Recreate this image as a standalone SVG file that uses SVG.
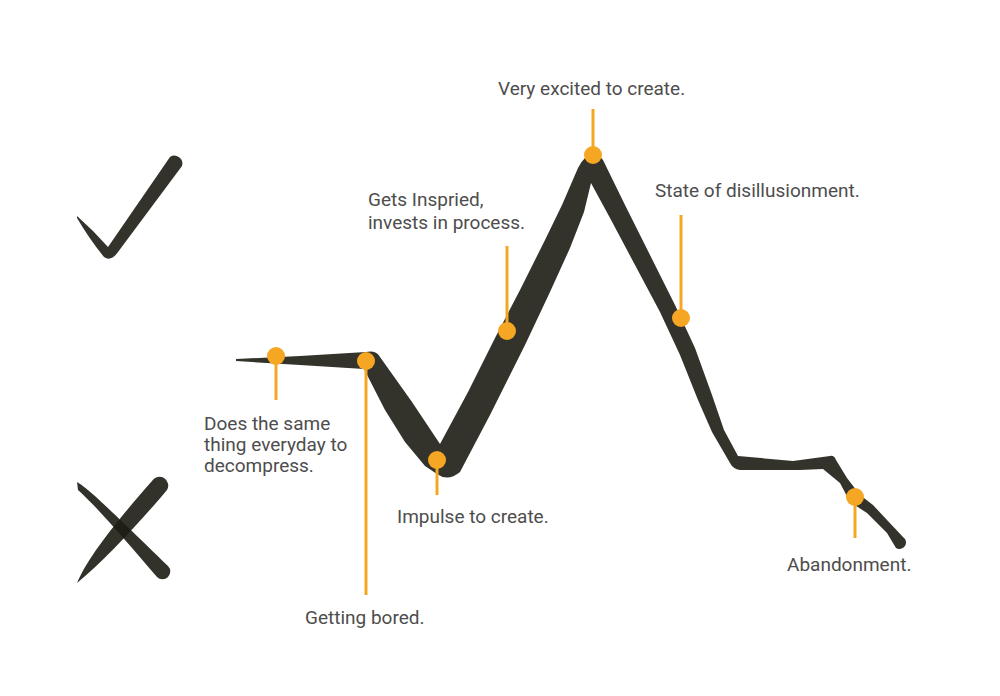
<svg xmlns="http://www.w3.org/2000/svg" width="1000" height="696" viewBox="0 0 1000 696">
<style>
.ink{fill:#33332c}
.xink{fill:#1c1c14;fill-opacity:0.9}
.dot{fill:#f5a623}
.pin{stroke:#f5a623;stroke-width:3;fill:none}
.lbl{font-family:Roboto,"Liberation Sans",sans-serif;font-size:19px;fill:#4d4d4d}
</style>
<rect width="1000" height="696" fill="#ffffff"/>
<g id="check">
<path class="ink" d="M77,216 Q93,230 108,247 L170,157 A8,8 0 0 1 182,166 L118,252 Q111,262 104,257 Q90,240 77,218 Z"/>
</g>
<g id="cross">
<path class="xink" d="M77,482 C90,490 105,505 168,566 A7.5,7.5 0 0 1 157,577 C125,540 100,510 78,490 Z"/>
<path class="xink" d="M152,481 A8.5,8.5 0 0 1 167,490 C140,522 105,560 77,583 C85,565 100,540 152,481 Z"/>
</g>
<g id="connectors">
<path id="curve" class="ink" d="M236,359 L300,356 L366,352 Q376,350 380,357 L412,402 L440,444 L468,392 L495,338 L520,290 L545,240 L562,205 L578,168 Q591,144 603,160 L625,205 L650,255 L675,305 L695,348 L712,395 L724,430 L738,456 L793,461 L830,456 Q834,455 836,460 L847,478 L860,495 L873,505 L887,520 L903,537 A6,6 0 0 1 896,548 L887,533 L867,513 L850,502 L840,483 L823,469 L800,470 L740,470 Q733,469 730,463 L712,432 L698,400 L680,355 L660,312 L635,265 L610,218 L591,183 L584,212 L570,248 L550,292 L525,345 L490,415 L460,472 Q448,482 437,474 L425,466 L405,442 L385,410 L364,369 L300,365 L236,361 Z"/>
<line class="pin" x1="276" y1="356" x2="276" y2="400"/>
<line class="pin" x1="366" y1="361" x2="366" y2="595"/>
<line class="pin" x1="437" y1="460" x2="437" y2="495"/>
<line class="pin" x1="507" y1="331" x2="507" y2="246"/>
<line class="pin" x1="593" y1="155" x2="593" y2="109"/>
<line class="pin" x1="681" y1="318" x2="681" y2="215"/>
<line class="pin" x1="855" y1="497" x2="855" y2="538"/>
</g>
<g id="n1"><circle class="dot" cx="276" cy="356" r="9"/><text class="lbl" x="204" y="430">Does the same</text><text class="lbl" x="204" y="451">thing everyday to</text><text class="lbl" x="204" y="472">decompress.</text></g>
<g id="n2"><circle class="dot" cx="366" cy="361" r="9"/><text class="lbl" x="305" y="624">Getting bored.</text></g>
<g id="n3"><circle class="dot" cx="437" cy="460" r="9"/><text class="lbl" x="397" y="523">Impulse to create.</text></g>
<g id="n4"><circle class="dot" cx="507" cy="331" r="9"/><text class="lbl" x="368" y="206">Gets Inspried,</text><text class="lbl" x="368" y="229">invests in process.</text></g>
<g id="n5"><circle class="dot" cx="593" cy="155" r="9"/><text class="lbl" x="498" y="95">Very excited to create.</text></g>
<g id="n6"><circle class="dot" cx="681" cy="318" r="9"/><text class="lbl" x="655" y="197">State of disillusionment.</text></g>
<g id="n7"><circle class="dot" cx="855" cy="497" r="9"/><text class="lbl" x="787" y="571">Abandonment.</text></g>
</svg>
